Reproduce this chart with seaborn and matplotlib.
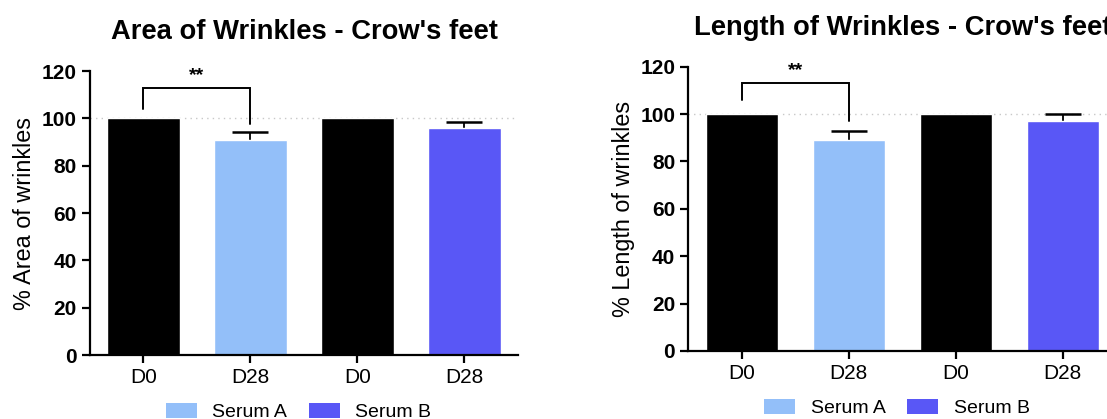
import matplotlib
matplotlib.use("Agg")
import matplotlib.pyplot as plt
from matplotlib.patches import Patch
import numpy as np
import pandas as pd
import seaborn as sns

# Four bars per panel: D0 / D28 for each serum
bar_ids = ["A-D0", "A-D28", "B-D0", "B-D28"]
day_labels = ["D0", "D28", "D0", "D28"]
serums = ["Serum A", "Serum B"]

area_mean = [100.0, 91.0, 100.0, 95.8]
area_err = [0.0, 3.3, 0.0, 2.6]
length_mean = [100.0, 89.1, 100.0, 97.1]
length_err = [0.0, 3.9, 0.0, 2.9]

y_ticks = [0, 20, 40, 60, 80, 100, 120]

sns.set_style("ticks")
plt.rcParams["font.family"] = ["Liberation Sans", "DejaVu Sans"]
plt.rcParams.update({
    "text.color": "black",
    "axes.labelcolor": "black",
    "xtick.color": "black",
    "ytick.color": "black",
    "axes.edgecolor": "black",
})

col_a = "#93BFF9"
col_b = "#5957F6"
palette = {"A-D0": "black", "A-D28": col_a, "B-D0": "black", "B-D28": col_b}

fig = plt.figure(figsize=(11.07, 4.19), dpi=100)
ax1 = fig.add_axes([0.0813, 0.1527, 0.3866, 0.6778])
ax2 = fig.add_axes([0.6218, 0.1623, 0.3866, 0.6785])


def panel(ax, means, errs, title, ylabel, bracket):
    df = pd.DataFrame({"bar": bar_ids, "value": means})
    ax.axhline(100, ls=(0, (1, 3)), color="#c8c8c8", lw=1.0, zorder=0)
    pos = np.arange(len(bar_ids))
    # symmetric bars drawn beneath the columns so only the upper half shows
    for x, m, e in zip(pos, means, errs):
        if e > 0:
            ax.errorbar(x, m, yerr=e, fmt="none", ecolor="black",
                        elinewidth=1.3, capsize=13, capthick=1.8, zorder=1)
    sns.barplot(data=df, x="bar", y="value", hue="bar", order=bar_ids,
                palette=palette, width=0.675, dodge=False, legend=False,
                saturation=1, ax=ax, zorder=2)
    # significance bracket between the two Serum A bars
    y_left, y_top, y_right = bracket
    ax.plot([0, 0, 1, 1], [y_left, y_top, y_top, y_right], color="black",
            lw=1.4, solid_joinstyle="miter", zorder=4, clip_on=False)
    ax.text(0.5, y_top + 1.5, "**", ha="center", va="bottom", fontsize=14,
            fontweight="bold")

    ax.set_xlim(-0.5, 3.5)
    ax.set_ylim(0, 120)
    ax.set_yticks(y_ticks)
    ax.set_yticklabels([str(t) for t in y_ticks], fontsize=15, fontweight="bold")
    ax.set_xticks(pos)
    ax.set_xticklabels(day_labels, fontsize=15)
    ax.set_xlabel("")
    ax.set_ylabel(ylabel, fontsize=16.8, labelpad=4)
    ax.set_title(title, fontsize=19.7, fontweight="bold", pad=23)
    sns.despine(ax=ax)
    for s in ("left", "bottom"):
        ax.spines[s].set_linewidth(1.6)
    ax.tick_params(axis="both", direction="out", length=6, width=1.6,
                   color="black", pad=3.5)

    handles = [Patch(facecolor=col_a, edgecolor="none", label=serums[0]),
               Patch(facecolor=col_b, edgecolor="none", label=serums[1])]
    ax.legend(handles=handles, loc="center", bbox_to_anchor=(0.487, -0.2),
              ncol=2, frameon=False, fontsize=14, handlelength=1.6,
              handleheight=0.8, handletextpad=0.8, columnspacing=1.1)


panel(ax1, area_mean, area_err, "Area of Wrinkles - Crow's feet",
      "% Area of wrinkles", (104, 112.8, 97.5))
panel(ax2, length_mean, length_err, "Length of Wrinkles - Crow's feet",
      "% Length of wrinkles", (106, 113.3, 97.1))

fig.savefig("out.png", dpi=100)
